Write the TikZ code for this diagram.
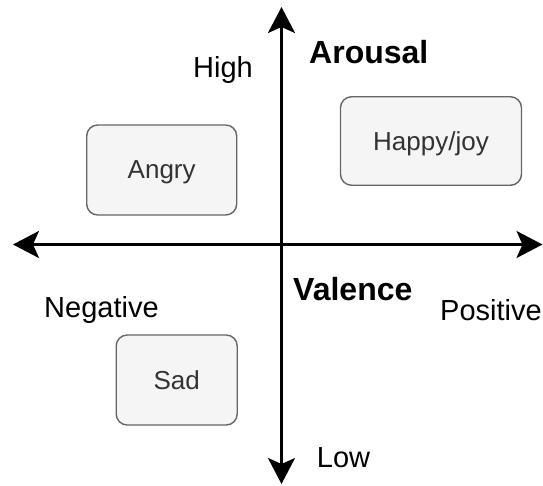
\documentclass[tikz,border=0pt]{standalone}
\usepackage{fontspec}
\setmainfont{Liberation Sans}
\usetikzlibrary{arrows.meta}
\definecolor{boxfill}{HTML}{F5F5F5}
\definecolor{boxline}{HTML}{666666}
\definecolor{boxtext}{HTML}{333333}
\begin{document}
\begin{tikzpicture}[x=1pt,y=-1pt,
  emotion/.style={draw=boxline, fill=boxfill, line width=1.4pt, rounded corners=11pt,
    text=boxtext, font=\fontsize{26}{30}\selectfont, inner sep=0pt, text depth=0pt},
  axislabel/.style={anchor=base west, inner sep=0pt, font=\fontsize{29}{34}\selectfont},
  axistitle/.style={anchor=base west, inner sep=0pt, font=\fontsize{32}{38}\selectfont\bfseries},
  axis/.style={line width=2.4pt,
    {Stealth[length=26pt,width=27pt,inset=6pt]}-{Stealth[length=26pt,width=27pt,inset=6pt]}}]
  \useasboundingbox (0,0) rectangle (543,485);

  % axis end points
  \coordinate (west) at (13,244.5);
  \coordinate (east) at (542.5,244.5);
  \coordinate (north) at (281.5,7);
  \coordinate (south) at (281.5,484);

  % axes
  \draw[axis] (west) -- (east);
  \draw[axis] (north) -- (south);

  % emotion boxes
  \node[emotion, minimum width=181pt, minimum height=88.5pt] (happy) at (431,141) {Happy/joy};
  \node[emotion, minimum width=150pt, minimum height=90pt] (angry) at (161.7,170) {Angry};
  \node[emotion, minimum width=121pt, minimum height=90pt] (sad) at (176.7,380) {Sad};

  % axis labels
  \node[axistitle] (arousal) at (309,63.3) {Arousal};
  \node[axistitle] (valence) at (293,300) {Valence};
  \node[axislabel] (high) at (193,77) {High};
  \node[axislabel] (low) at (316.7,467.7) {Low};
  \node[axislabel] (negative) at (44,317) {Negative};
  \node[axislabel] (positive) at (440,320) {Positive};
\end{tikzpicture}
\end{document}
